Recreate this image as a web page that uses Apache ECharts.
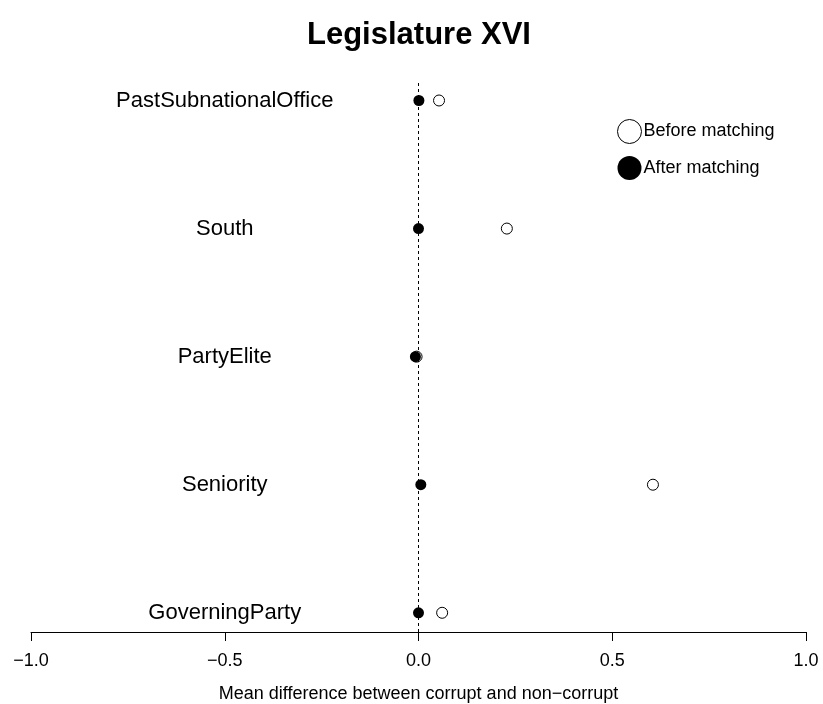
<!DOCTYPE html>
<html>
<head>
<meta charset="utf-8" />
<title>Legislature XVI</title>
<script src="https://cdn.jsdelivr.net/npm/echarts@6/dist/echarts.min.js"></script>
<style>
html, body { margin: 0; padding: 0; background: #fff; }
#chart { width: 823px; height: 704px; }
</style>
</head>
<body>
<div id="chart"></div>
<script type="text/javascript">
// covariates, top to bottom
var covariates = ['PastSubnationalOffice', 'South', 'PartyElite', 'Seniority', 'GoverningParty'];
var rowPos = [5, 4, 3, 2, 1];
// mean difference corrupt vs non-corrupt
var beforeMatching = [0.053, 0.228, -0.005, 0.605, 0.061];
var afterMatching = [0.001, 0.0, -0.008, 0.006, 0.0];
var xTicks = [-1.0, -0.5, 0.0, 0.5, 1.0];
var labelX = -0.5;

var font = "'Liberation Sans', Arial, Helvetica, sans-serif";

function pts(vals) {
	return vals.map(function(v, i) { return [v, rowPos[i]]; });
}

var myChart = echarts.init(document.getElementById('chart'));
myChart.setOption({
	animation : false,
	backgroundColor : '#ffffff',
	title : {
		text : 'Legislature XVI',
		left : 302,
		top : 15,
		textStyle : {
			fontFamily : font,
			fontSize : 31,
			fontWeight : 'bold',
			color : '#000'
		}
	},
	legend : {
		orient : 'vertical',
		left : 612,
		top : 114,
		itemWidth : 24,
		itemHeight : 24,
		itemGap : 12,
		icon : 'circle',
		textStyle : { fontFamily : font, fontSize : 18, color : '#000', padding : [0, 0, 0, -3] },
		data : [
			{ name : 'Before matching', itemStyle : { color : '#fff', borderColor : '#000', borderWidth : 1 } },
			{ name : 'After matching', itemStyle : { color : '#000', borderColor : '#000', borderWidth : 0 } }
		]
	},
	grid : {
		left : 31,
		right : 17,
		top : 80,
		bottom : 72,
		outerBoundsMode : 'none'
	},
	xAxis : {
		type : 'value',
		min : xTicks[0],
		max : xTicks[xTicks.length - 1],
		interval : 0.5,
		name : 'Mean difference between corrupt and non\u2212corrupt',
		nameLocation : 'middle',
		nameGap : 53,
		nameTextStyle : { fontFamily : font, fontSize : 18, color : '#000' },
		axisLine : { show : true, onZero : false, lineStyle : { color : '#000', width : 1 } },
		axisTick : { show : true, length : 9, lineStyle : { color : '#000' } },
		axisLabel : {
			fontFamily : font,
			fontSize : 18,
			color : '#000',
			margin : 20,
			formatter : function(v) {
				return v < 0 ? '\u2212' + Math.abs(v).toFixed(1) : v.toFixed(1);
			}
		},
		splitLine : { show : false }
	},
	yAxis : {
		type : 'value',
		min : 0.85,
		max : 5.16,
		show : false
	},
	series : [ {
		name : 'Before matching',
		type : 'scatter',
		symbol : 'circle',
		symbolSize : 11,
		itemStyle : { color : '#fff', borderColor : '#000', borderWidth : 1, opacity : 1 },
		data : pts(beforeMatching),
		markLine : {
			silent : true,
			symbol : 'none',
			label : { show : false },
			lineStyle : { color : '#000', type : [3, 3], width : 1 },
			data : [ { xAxis : 0 } ]
		}
	}, {
		name : 'After matching',
		type : 'scatter',
		symbol : 'circle',
		symbolSize : 11,
		itemStyle : { color : '#000', opacity : 1 },
		data : pts(afterMatching)
	}, {
		name : 'labels',
		type : 'scatter',
		symbolSize : 0,
		silent : true,
		data : covariates.map(function(c, i) { return { name : c, value : [labelX, rowPos[i]] }; }),
		label : {
			show : true,
			position : 'inside',
			formatter : '{b}',
			fontFamily : font,
			fontSize : 22,
			color : '#000',
			opacity : 1,
			textBorderWidth : 0
		}
	} ]
});
</script>
</body>
</html>
